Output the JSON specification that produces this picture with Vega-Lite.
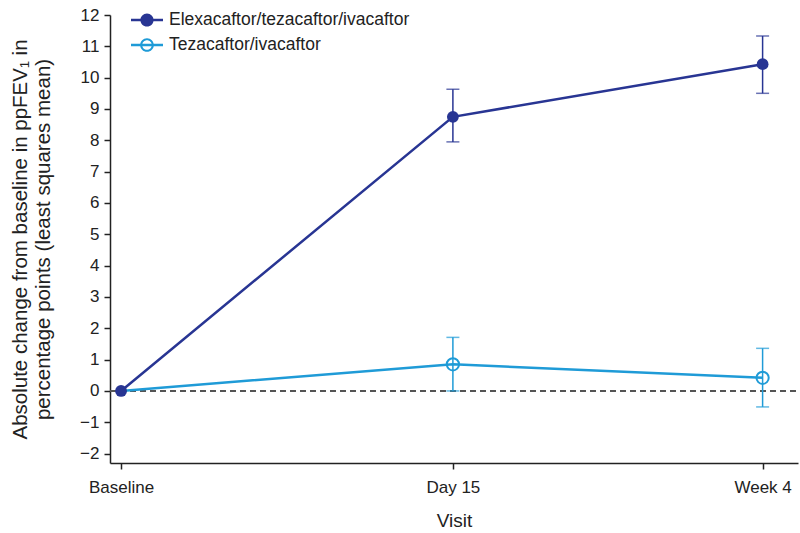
{
  "$schema": "https://vega.github.io/schema/vega-lite/v6.json",
  "width": 688,
  "height": 448,
  "autosize": "none",
  "padding": {"left": 110, "top": 15, "right": 2, "bottom": 70},
  "background": "white",
  "config": {
    "view": {"stroke": null},
    "font": "Liberation Sans",
    "axis": {
      "domainColor": "#222",
      "tickColor": "#222",
      "labelColor": "#222",
      "titleColor": "#222",
      "labelFontSize": 17,
      "titleFontSize": 19,
      "titleFontWeight": "normal",
      "grid": false,
      "domainWidth": 1.5,
      "tickWidth": 1.5,
      "tickSize": 6
    }
  },
  "data": {
    "values": [
      {"arm": "Elexacaftor/tezacaftor/ivacaftor", "visit": "Baseline", "day": 0, "mean": 0, "lo": 0, "hi": 0},
      {"arm": "Elexacaftor/tezacaftor/ivacaftor", "visit": "Day 15", "day": 15, "mean": 8.75, "lo": 7.95, "hi": 9.63},
      {"arm": "Elexacaftor/tezacaftor/ivacaftor", "visit": "Week 4", "day": 29, "mean": 10.43, "lo": 9.5, "hi": 11.33},
      {"arm": "Tezacaftor/ivacaftor", "visit": "Baseline", "day": 0, "mean": 0, "lo": 0, "hi": 0},
      {"arm": "Tezacaftor/ivacaftor", "visit": "Day 15", "day": 15, "mean": 0.85, "lo": 0.0, "hi": 1.71},
      {"arm": "Tezacaftor/ivacaftor", "visit": "Week 4", "day": 29, "mean": 0.42, "lo": -0.51, "hi": 1.36}
    ]
  },
  "encoding": {
    "x": {
      "field": "day",
      "type": "quantitative",
      "scale": {"domain": [-0.5, 30.6], "nice": false, "zero": false},
      "axis": {
        "values": [0, 15, 29],
        "labelExpr": "datum.value == 0 ? 'Baseline' : datum.value == 15 ? 'Day 15' : 'Week 4'",
        "title": "Visit",
        "labelFontSize": 17,
        "titleFontSize": 19,
        "labelPadding": 10,
        "titlePadding": 16
      }
    },
    "y": {
      "field": "mean",
      "type": "quantitative",
      "scale": {"domain": [-2.3, 12], "nice": false, "zero": false},
      "axis": {
        "values": [-2, -1, 0, 1, 2, 3, 4, 5, 6, 7, 8, 9, 10, 11, 12],
        "title": ["Absolute change from baseline in ppFEV\u2081 in", "percentage points (least squares mean)"],
        "labelFontSize": 17,
        "titleFontSize": 20.5,
        "titlePadding": 26,
        "labelPadding": 5,
        "titleLineHeight": 23
      }
    },
    "color": {
      "field": "arm",
      "type": "nominal",
      "scale": {"domain": ["Elexacaftor/tezacaftor/ivacaftor", "Tezacaftor/ivacaftor"], "range": ["#283593", "#1F9BD7"]},
      "legend": null
    }
  },
  "layer": [
    {
      "mark": {"type": "rule", "strokeDash": [6, 4], "strokeWidth": 1.5},
      "encoding": {
        "x": {"datum": -0.5, "type": "quantitative"},
        "x2": {"datum": 30.6},
        "y": {"datum": 0, "type": "quantitative"},
        "color": {"value": "#555"}
      }
    },
    {
      "mark": {"type": "line", "strokeWidth": 2.5},
      "encoding": {
        "color": {
          "field": "arm",
          "type": "nominal",
          "legend": {
            "title": null,
            "orient": "none",
            "legendX": 26,
            "legendY": -6,
            "labelFontSize": 17.5,
            "labelColor": "#222",
            "labelLimit": 0,
            "symbolSize": 455,
            "symbolStrokeWidth": 0,
            "rowPadding": 5,
            "labelOffset": 11,
            "encode": {
              "symbols": {
                "update": {
                  "shape": {"signal": "datum.value === 'Tezacaftor/ivacaftor' ? 'M-1.5,-0.117H1.5V0.117H-1.5Z M-0.64,0A0.64,0.64 0 1,1 0.64,0A0.64,0.64 0 1,1 -0.64,0Z M-0.45,0A0.45,0.45 0 1,0 0.45,0A0.45,0.45 0 1,0 -0.45,0Z' : 'M-1.5,-0.117H1.5V0.117H-1.5Z M-0.62,0A0.62,0.62 0 1,1 0.62,0A0.62,0.62 0 1,1 -0.62,0Z'"},
                  "fill": {"signal": "datum.value === 'Tezacaftor/ivacaftor' ? '#1F9BD7' : '#283593'"},
                  "strokeWidth": {"value": 0},
                  "opacity": {"value": 1}
                }
              }
            }
          }
        }
      }
    },
    {
      "transform": [{"filter": "datum.day > 0"}],
      "mark": {"type": "rule", "strokeWidth": 1.5},
      "encoding": {
        "y": {"field": "lo", "type": "quantitative"},
        "y2": {"field": "hi"}
      }
    },
    {
      "transform": [{"filter": "datum.day > 0"}],
      "mark": {"type": "tick", "orient": "horizontal", "size": 13, "thickness": 1.5},
      "encoding": {
        "y": {"field": "lo", "type": "quantitative"}
      }
    },
    {
      "transform": [{"filter": "datum.day > 0"}],
      "mark": {"type": "tick", "orient": "horizontal", "size": 13, "thickness": 1.5},
      "encoding": {
        "y": {"field": "hi", "type": "quantitative"}
      }
    },
    {
      "transform": [{"filter": "datum.arm === 'Tezacaftor/ivacaftor' && datum.day > 0"}],
      "mark": {"type": "point", "shape": "circle", "filled": false, "size": 150, "strokeWidth": 2, "opacity": 1}
    },
    {
      "transform": [{"filter": "datum.arm === 'Elexacaftor/tezacaftor/ivacaftor'"}],
      "mark": {"type": "point", "shape": "circle", "filled": true, "size": 140, "opacity": 1}
    }
  ]
}
